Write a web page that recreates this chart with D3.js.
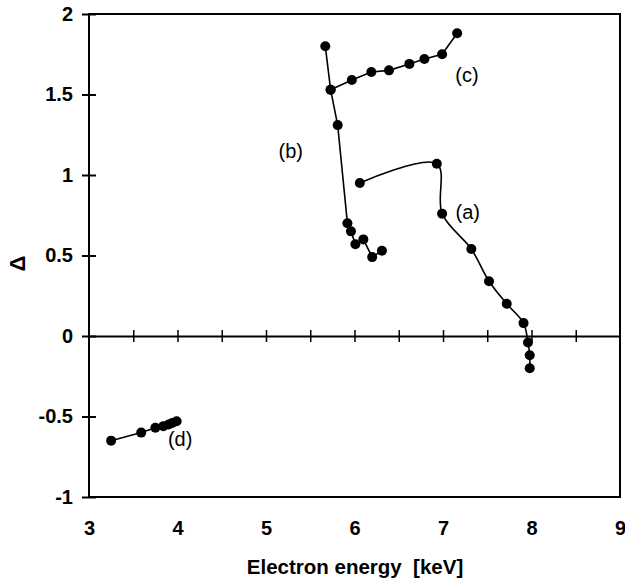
<!DOCTYPE html>
<html>
<head>
<meta charset="utf-8">
<script src="https://cdn.jsdelivr.net/npm/d3@7"></script>
<style>
    body { margin: 0; background: #fff; }
    text { font-family: "Liberation Sans", Arial, sans-serif; }
</style>
</head>
<body>
<div class="chart"></div>
<script>
// series values
let seriesA_x = [6.06, 6.93, 6.99, 7.32, 7.52, 7.72, 7.91, 7.96, 7.98, 7.98]
let seriesA_y = [0.95, 1.07, 0.76, 0.54, 0.34, 0.20, 0.08, -0.04, -0.12, -0.20]

let seriesB_x = [5.67, 5.73, 5.81, 5.92, 5.96, 6.01, 6.10, 6.20, 6.31]
let seriesB_y = [1.80, 1.53, 1.31, 0.70, 0.65, 0.57, 0.60, 0.49, 0.53]

let seriesC_x = [5.73, 5.97, 6.19, 6.39, 6.62, 6.79, 6.99, 7.16]
let seriesC_y = [1.53, 1.59, 1.64, 1.65, 1.69, 1.72, 1.75, 1.88]

let seriesD_x = [3.25, 3.59, 3.75, 3.84, 3.90, 3.94, 3.99]
let seriesD_y = [-0.65, -0.60, -0.57, -0.56, -0.55, -0.54, -0.53]

let xTicks = [3, 4, 5, 6, 7, 8, 9]
let xMinorTicks = [3.5, 4, 4.5, 5, 5.5, 6, 6.5, 7, 7.5, 8, 8.5]
let yTicks = [-1, -0.5, 0, 0.5, 1, 1.5, 2]

let labels = [
    { text: "(a)", x: 7.28, y: 0.77 },
    { text: "(b)", x: 5.28, y: 1.15 },
    { text: "(c)", x: 7.27, y: 1.62 },
    { text: "(d)", x: 4.03, y: -0.64 }
]

const zip = (xs, ys) => xs.map((x, i) => ({ x: x, y: ys[i] }))

const series = [
    { name: "a", data: zip(seriesA_x, seriesA_y), curve: d3.curveCatmullRom.alpha(0.5) },
    { name: "b", data: zip(seriesB_x, seriesB_y), curve: d3.curveLinear },
    { name: "c", data: zip(seriesC_x, seriesC_y), curve: d3.curveLinear },
    { name: "d", data: zip(seriesD_x, seriesD_y), curve: d3.curveLinear }
]

// Margin Convention
const margin = { top: 14, right: 5, bottom: 83, left: 89 }
const width = 625 - margin.left - margin.right;
const height = 580 - margin.top - margin.bottom;

const xScale = d3.scaleLinear()
    .domain([3, 9])
    .range([0, width])

const yScale = d3.scaleLinear()
    .domain([-1, 2])
    .range([height, 0])

const svg = d3.select('.chart')
    .append('svg')
    .attr('width', width + margin.left + margin.right)
    .attr('height', height + margin.top + margin.bottom)
    .append('g')
    .attr('transform', `translate(${margin.left}, ${margin.top})`);

// frame
svg.append('rect')
    .attr('width', width)
    .attr('height', height)
    .attr('fill', 'none')
    .attr('stroke', '#000')
    .attr('stroke-width', 2)

// y axis with crossing ticks
const yAxis = d3.axisLeft(yScale)
    .tickValues(yTicks)
    .tickFormat(d => String(d))
    .tickSize(7)
    .tickPadding(9)

const yAxisDraw = svg.append('g')
    .attr('class', 'y axis')
    .call(yAxis)

yAxisDraw.select('.domain').remove()
yAxisDraw.selectAll('line').attr('x1', 7).attr('stroke-width', 2)
yAxisDraw.selectAll('text')
    .style('font-size', '20px')
    .style('font-weight', 'bold')
    .attr('fill', '#000')

// zero line with ticks
const zeroAxis = d3.axisBottom(xScale)
    .tickValues(xMinorTicks)
    .tickFormat('')
    .tickSize(6)
    .tickSizeOuter(0)

const zeroDraw = svg.append('g')
    .attr('class', 'x zero')
    .attr('transform', `translate(0, ${yScale(0)})`)
    .call(zeroAxis)

zeroDraw.select('.domain').attr('stroke-width', 2)
zeroDraw.selectAll('line').attr('y1', -6).attr('stroke-width', 1.5)

// x tick labels under frame
const xAxis = d3.axisBottom(xScale)
    .tickValues(xTicks)
    .tickFormat(d => String(d))
    .tickSize(0)
    .tickPadding(24)

const xAxisDraw = svg.append('g')
    .attr('class', 'x axis')
    .attr('transform', `translate(0, ${height})`)
    .call(xAxis)

xAxisDraw.select('.domain').remove()
xAxisDraw.selectAll('text')
    .style('font-size', '20px')
    .style('font-weight', 'bold')
    .attr('fill', '#000')

// axis titles
svg.append('text')
    .attr('x', 266)
    .attr('y', height + 77)
    .attr('text-anchor', 'middle')
    .style('font-size', '20.5px')
    .style('font-weight', 'bold')
    .style('white-space', 'pre')
    .text('Electron energy  [keV]')

svg.append('text')
    .attr('transform', `translate(${-64}, ${yScale(0.45)}) rotate(-90)`)
    .attr('text-anchor', 'middle')
    .style('font-size', '22px')
    .style('font-weight', 'bold')
    .text('Δ')

// lines and points
const line = d3.line()
    .x(d => xScale(d.x))
    .y(d => yScale(d.y))

series.forEach(s => {
    svg.append('path')
        .datum(s.data)
        .attr('fill', 'none')
        .attr('stroke', '#000')
        .attr('stroke-width', 1.6)
        .attr('d', line.curve(s.curve))

    svg.append('g')
        .selectAll('circle')
        .data(s.data)
        .join('circle')
        .attr('cx', d => xScale(d.x))
        .attr('cy', d => yScale(d.y))
        .attr('r', 5)
        .attr('fill', '#000')
})

svg.append('g')
    .selectAll('text')
    .data(labels)
    .join('text')
    .attr('x', d => xScale(d.x))
    .attr('y', d => yScale(d.y))
    .attr('text-anchor', 'middle')
    .attr('dy', '0.35em')
    .style('font-size', '20px')
    .text(d => d.text)
</script>
</body>
</html>
